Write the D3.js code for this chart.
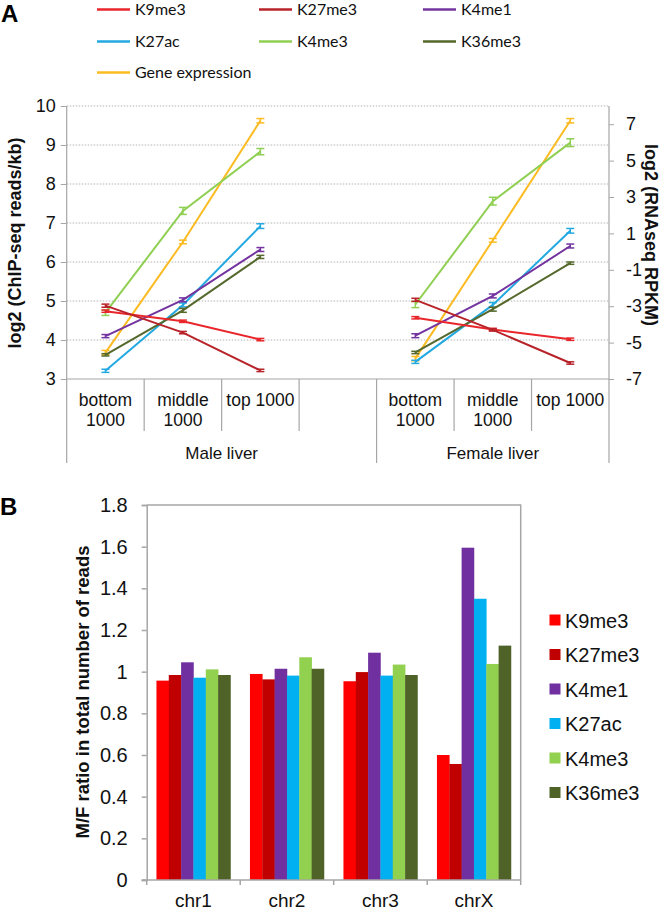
<!DOCTYPE html>
<html>
<head>
<meta charset="utf-8">
<script src="https://cdn.jsdelivr.net/npm/d3@7"></script>
<style>
  html, body { margin: 0; padding: 0; background: #fff; }
  svg { display: block; font-family: "Liberation Sans", Arial, sans-serif; }
</style>
</head>
<body>
<svg id="chart" width="666" height="913"></svg>
<script>
// ---------------- Panel A data ----------------
const stageLabels = [["bottom", "1000"], ["middle", "1000"], ["top 1000"]];
const groupNames = ["Male liver", "Female liver"];
const seriesNames = ["K9me3", "K27me3", "K4me1", "K27ac", "K4me3", "K36me3", "Gene expression"];
const lineColors = ["#e8262b", "#b8232a", "#7434a0", "#23a9e1", "#8fcf52", "#55692d", "#fbbb22"];

const leftTicks = [3, 4, 5, 6, 7, 8, 9, 10];
const rightTicks = [-7, -5, -3, -1, 1, 3, 5, 7];

// values (ChIP-seq on left axis; gene expression on right axis)
const k9me3Male = [4.74, 4.48, 4.01];
const k9me3Female = [4.57, 4.27, 4.02];
const k27me3Male = [4.88, 4.19, 3.22];
const k27me3Female = [5.03, 4.26, 3.41];
const k4me1Male = [4.10, 5.03, 6.32];
const k4me1Female = [4.11, 5.13, 6.41];
const k27acMale = [3.21, 4.90, 6.92];
const k27acFemale = [3.44, 4.90, 6.80];
const k4me3Male = [4.70, 7.31, 8.83];
const k4me3Female = [4.91, 7.56, 9.06];
const k36me3Male = [3.62, 4.76, 6.13];
const k36me3Female = [3.68, 4.79, 5.97];
const geneExprMale = [-5.55, 0.53, 7.19];
const geneExprFemale = [-5.88, 0.62, 7.19];

// error half-widths
const k9me3MaleErr = [0.03, 0.03, 0.03];
const k9me3FemaleErr = [0.03, 0.03, 0.03];
const k27me3MaleErr = [0.04, 0.03, 0.03];
const k27me3FemaleErr = [0.04, 0.03, 0.03];
const k4me1MaleErr = [0.04, 0.05, 0.05];
const k4me1FemaleErr = [0.05, 0.05, 0.05];
const k27acMaleErr = [0.04, 0.05, 0.06];
const k27acFemaleErr = [0.04, 0.06, 0.06];
const k4me3MaleErr = [0.07, 0.09, 0.08];
const k4me3FemaleErr = [0.08, 0.10, 0.10];
const k36me3MaleErr = [0.03, 0.05, 0.04];
const k36me3FemaleErr = [0.03, 0.05, 0.03];
const geneExprMaleErr = [0.12, 0.10, 0.12];
const geneExprFemaleErr = [0.12, 0.10, 0.12];

// ---------------- Panel B data ----------------
const chromosomes = ["chr1", "chr2", "chr3", "chrX"];
const barSeries = ["K9me3", "K27me3", "K4me1", "K27ac", "K4me3", "K36me3"];
const barColors = ["#ff0000", "#c00000", "#7030a0", "#00b0f0", "#92d050", "#4f6228"];
const barK9me3 = [0.957, 0.989, 0.954, 0.600];
const barK27me3 = [0.984, 0.963, 0.998, 0.557];
const barK4me1 = [1.045, 1.014, 1.091, 1.595];
const barK27ac = [0.971, 0.981, 0.981, 1.350];
const barK4me3 = [1.011, 1.069, 1.034, 1.037];
const barK36me3 = [0.984, 1.014, 0.984, 1.125];
const barTicks = [0, 0.2, 0.4, 0.6, 0.8, 1, 1.2, 1.4, 1.6, 1.8];

// ---------------- build ----------------
const svg = d3.select("#chart");
const axisGray = "#a6a6a6";

// ===== Panel A =====
const slots = ["M0", "M1", "M2", "Mblank", "F0", "F1", "F2"];
const xA = d3.scaleBand().domain(slots).range([66.7, 609]).padding(0);
const yL = d3.scaleLinear().domain([3, 10]).range([379, 106]);
const yR = d3.scaleLinear().domain([-7, 8]).range([379, 106]);

svg.append("text").attr("x", 1).attr("y", 22).attr("font-size", 24)
  .attr("font-weight", "bold").text("A");

// legend A
const legA = svg.append("g").attr("font-family", "Lato, 'Open Sans', sans-serif");
seriesNames.forEach((name, i) => {
  const col = i % 3, row = Math.floor(i / 3);
  const lx = [97, 259, 423][col];
  const ly = [9.5, 41.5, 72.5][row];
  legA.append("line").attr("x1", lx).attr("x2", lx + 33).attr("y1", ly).attr("y2", ly)
    .attr("stroke", lineColors[i]).attr("stroke-width", 2.5);
  legA.append("text").attr("x", lx + 38).attr("y", ly + 5.5).attr("font-size", 16)
    .attr("fill", "#111").text(name);
});

// gridlines
svg.append("g").selectAll("line").data(leftTicks.filter(t => t > 3)).join("line")
  .attr("x1", 66.7).attr("x2", 609).attr("y1", d => yL(d)).attr("y2", d => yL(d))
  .attr("stroke", "#b5b5b5").attr("stroke-width", 1).attr("stroke-dasharray", "1.5,1.5");

// left axis
const axL = svg.append("g").attr("transform", "translate(66.7,0)")
  .call(d3.axisLeft(yL).tickValues(leftTicks).tickSize(6).tickPadding(5).tickFormat(d3.format("d")));
axL.select(".domain").remove();
axL.selectAll(".tick line").attr("stroke", axisGray);
axL.selectAll("text").attr("font-size", 18).attr("fill", "#111").attr("font-family", "Liberation Sans, Arial, sans-serif");
svg.append("line").attr("x1", 66.7).attr("x2", 66.7).attr("y1", 106).attr("y2", 463)
  .attr("stroke", axisGray).attr("stroke-width", 1.2);

// right axis
const axR = svg.append("g").attr("transform", "translate(609,0)")
  .call(d3.axisRight(yR).tickValues(rightTicks).tickSize(5).tickPadding(12).tickFormat(d => d3.format("d")(d).replace("−", "-")));
axR.select(".domain").remove();
axR.selectAll(".tick line").attr("stroke", axisGray);
axR.selectAll("text").attr("font-size", 18).attr("fill", "#111").attr("font-family", "Liberation Sans, Arial, sans-serif");
svg.append("line").attr("x1", 609).attr("x2", 609).attr("y1", 106).attr("y2", 463)
  .attr("stroke", axisGray).attr("stroke-width", 1.2);

// bottom axis
svg.append("line").attr("x1", 66.7).attr("x2", 609).attr("y1", 379).attr("y2", 379)
  .attr("stroke", axisGray).attr("stroke-width", 1.2);

// inner dividers
const innerBounds = slots.slice(1).map(s => xA(s)).filter(x => Math.abs(x - xA("F0")) > 1);
svg.append("g").selectAll("line").data(innerBounds).join("line")
  .attr("x1", d => d).attr("x2", d => d).attr("y1", 379).attr("y2", 431)
  .attr("stroke", axisGray).attr("stroke-width", 1.2);
// group divider
svg.append("line").attr("x1", xA("F0")).attr("x2", xA("F0")).attr("y1", 379).attr("y2", 463)
  .attr("stroke", axisGray).attr("stroke-width", 1.2);

// category labels
const catSlots = ["M0", "M1", "M2", "F0", "F1", "F2"];
catSlots.forEach((s, i) => {
  const lines = stageLabels[i % 3];
  const t = svg.append("text").attr("text-anchor", "middle").attr("font-size", 17.5).attr("fill", "#111");
  lines.forEach((ln, j) => {
    t.append("tspan").attr("x", xA(s) + xA.bandwidth() / 2).attr("y", 406 + j * 20).text(ln);
  });
});
// group labels
const groupCenters = [(xA("M0") + xA("F0")) / 2, (xA("F0") + 609) / 2];
groupNames.forEach((g, i) => {
  svg.append("text").attr("x", groupCenters[i]).attr("y", 459).attr("text-anchor", "middle")
    .attr("font-size", 17).attr("fill", "#111").text(g);
});

// axis titles
svg.append("text").attr("transform", "translate(21,243) rotate(-90)").attr("text-anchor", "middle")
  .attr("font-size", 18).attr("font-weight", "bold").attr("fill", "#111").text("log2 (ChIP-seq reads/kb)");
svg.append("text").attr("transform", "translate(645,235) rotate(90)").attr("text-anchor", "middle")
  .attr("font-size", 18).attr("font-weight", "bold").attr("fill", "#111").text("log2 (RNAseq RPKM)");

// lines
const lineSets = [
  [k9me3Male, k9me3Female, k9me3MaleErr, k9me3FemaleErr, yL],
  [k27me3Male, k27me3Female, k27me3MaleErr, k27me3FemaleErr, yL],
  [k4me1Male, k4me1Female, k4me1MaleErr, k4me1FemaleErr, yL],
  [k27acMale, k27acFemale, k27acMaleErr, k27acFemaleErr, yL],
  [k4me3Male, k4me3Female, k4me3MaleErr, k4me3FemaleErr, yL],
  [k36me3Male, k36me3Female, k36me3MaleErr, k36me3FemaleErr, yL],
  [geneExprMale, geneExprFemale, geneExprMaleErr, geneExprFemaleErr, yR]
];
const drawOrder = [6, 4, 3, 2, 5, 0, 1];
const gLines = svg.append("g");
drawOrder.forEach(i => {
  const [m, f, me, fe, ys] = lineSets[i];
  [[m, me, ["M0", "M1", "M2"]], [f, fe, ["F0", "F1", "F2"]]].forEach(([vals, errs, sl]) => {
    const pts = vals.map((v, k) => ({ x: xA(sl[k]) + xA.bandwidth() / 2, v, e: errs[k] }));
    gLines.append("path").datum(pts)
      .attr("d", d3.line().x(d => d.x).y(d => ys(d.v)))
      .attr("fill", "none").attr("stroke", lineColors[i]).attr("stroke-width", 2);
    pts.forEach(p => {
      const y1 = ys(p.v - p.e), y2 = ys(p.v + p.e);
      gLines.append("line").attr("x1", p.x).attr("x2", p.x).attr("y1", y1).attr("y2", y2)
        .attr("stroke", lineColors[i]).attr("stroke-width", 1.5);
      [y1, y2].forEach(yy => gLines.append("line").attr("x1", p.x - 4).attr("x2", p.x + 4)
        .attr("y1", yy).attr("y2", yy).attr("stroke", lineColors[i]).attr("stroke-width", 1.5));
    });
  });
});

// ===== Panel B =====
svg.append("text").attr("x", 0).attr("y", 515).attr("font-size", 24)
  .attr("font-weight", "bold").text("B");

const xB = d3.scaleBand().domain(chromosomes).range([146.7, 520.7]).padding(0);
const xB1 = d3.scaleBand().domain(barSeries).range([9.75, xB.bandwidth() - 9.75]).padding(0);
const yB = d3.scaleLinear().domain([0, 1.8]).range([880, 505]);
const barData = [barK9me3, barK27me3, barK4me1, barK27ac, barK4me3, barK36me3];

const gBars = svg.append("g");
chromosomes.forEach((c, ci) => {
  barSeries.forEach((s, si) => {
    const v = barData[si][ci];
    gBars.append("rect").attr("x", xB(c) + xB1(s)).attr("width", xB1.bandwidth() + 0.3)
      .attr("y", yB(v)).attr("height", yB(0) - yB(v)).attr("fill", barColors[si]);
  });
});

// frame
svg.append("path").attr("d", `M146.7,505 H520.7 V880`).attr("fill", "none")
  .attr("stroke", axisGray).attr("stroke-width", 1.5);

const axBL = svg.append("g").attr("transform", "translate(146.7,0)")
  .call(d3.axisLeft(yB).tickValues(barTicks).tickSize(5).tickPadding(14).tickFormat(d => d3.format("")(+d.toFixed(1))));
axBL.select(".domain").attr("stroke", axisGray).attr("stroke-width", 1.5);
axBL.selectAll(".tick line").attr("stroke", axisGray).attr("stroke-width", 1.5);
axBL.selectAll("text").attr("font-size", 20).attr("fill", "#111").attr("font-family", "Liberation Sans, Arial, sans-serif");

svg.append("line").attr("x1", 141.7).attr("x2", 520.7).attr("y1", 880).attr("y2", 880)
  .attr("stroke", axisGray).attr("stroke-width", 1.5);
const bBounds = chromosomes.map(c => xB(c)).concat([520.7]);
svg.append("g").selectAll("line").data(bBounds).join("line")
  .attr("x1", d => d).attr("x2", d => d).attr("y1", 880).attr("y2", 885)
  .attr("stroke", axisGray).attr("stroke-width", 1.5);
chromosomes.forEach(c => {
  svg.append("text").attr("x", xB(c) + xB.bandwidth() / 2).attr("y", 907).attr("text-anchor", "middle")
    .attr("font-size", 19).attr("fill", "#111").text(c);
});

svg.append("text").attr("transform", "translate(89,692) rotate(-90)").attr("text-anchor", "middle")
  .attr("font-size", 18.5).attr("font-weight", "bold").attr("fill", "#111").text("M/F ratio in total number of reads");

// legend B
barSeries.forEach((s, i) => {
  const ly = 620 + i * 34.5;
  svg.append("rect").attr("x", 549.5).attr("y", ly - 5.5).attr("width", 11).attr("height", 11).attr("fill", barColors[i]);
  svg.append("text").attr("x", 565).attr("y", ly + 7.5).attr("font-size", 20).attr("fill", "#111").text(s);
});
</script>
</body>
</html>
